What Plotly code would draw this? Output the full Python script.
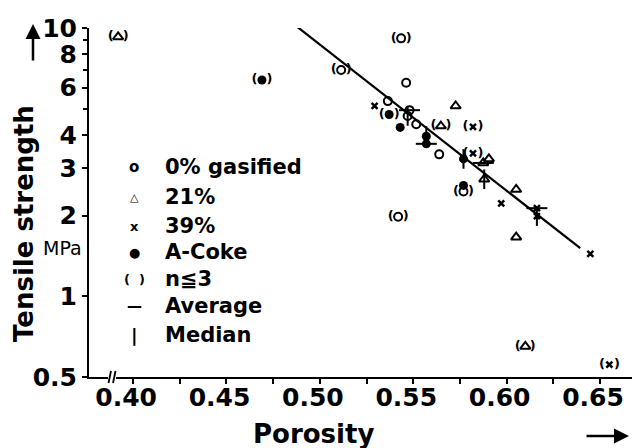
import plotly.graph_objects as go

# ---------------- data (porosity, tensile strength MPa, tag) ----------------
# tag: "" plain, "few" = n<=3 (in parentheses), "avg" = average, "med" = median
gas0_por = [0.5114, 0.5435, 0.5462, 0.5364, 0.5480, 0.5470, 0.5516, 0.5639, 0.5769, 0.5419]
gas0_ts = [6.97, 9.15, 6.25, 5.34, 4.94, 4.70, 4.38, 3.38, 2.46, 1.98]
gas0_tag = ["few", "few", "", "", "avg", "med", "", "", "few", "few"]

gas21_por = [0.3920, 0.5648, 0.5727, 0.5875, 0.5905, 0.5880, 0.6051, 0.6051, 0.6100]
gas21_ts = [9.26, 4.31, 5.12, 3.14, 3.25, 2.73, 2.50, 1.66, 0.65]
gas21_tag = ["few", "few", "", "avg", "", "med", "", "", "few"]

gas39_por = [0.5293, 0.5820, 0.5820, 0.5971, 0.6162, 0.6162, 0.6448, 0.6550]
gas39_ts = [5.12, 4.28, 3.41, 2.22, 2.13, 1.99, 1.44, 0.556]
gas39_tag = ["", "few", "few", "", "avg", "med", "", "few"]

acoke_por = [0.4690, 0.5371, 0.5430, 0.5570, 0.5570, 0.5769, 0.5769]
acoke_ts = [6.40, 4.76, 4.26, 3.70, 3.95, 3.25, 2.59]
acoke_tag = ["few", "few", "", "avg", "med", "med", ""]

fit_por = [0.485, 0.6394]
fit_ts = [10.47, 1.51]

x_ticks = [0.40, 0.45, 0.50, 0.55, 0.60, 0.65]
x_ticktext = ["0.40", "0.45", "0.50", "0.55", "0.60", "0.65"]
x_minor = [0.425, 0.475, 0.525, 0.575, 0.625]
y_ticks = [0.5, 1, 2, 3, 4, 6, 8, 10]
y_ticktext = ["0.5", "1", "2", "3", "4", "6", "8", "10"]
y_minor = [5, 7, 9]

legend_labels = ["0% gasified", "21%", "39%", "A-Coke", "n\u22663", "Average", "Median"]
legend_glyphs = ["o", "\u25b3", "x", "\u25cf", "(  )", "\u2014", "|"]

# ---------------- figure ----------------
BLACK = "#000000"
FONT = "DejaVu Sans"
fig = go.Figure()

# regression line
fig.add_trace(go.Scatter(x=fit_por, y=fit_ts, mode="lines",
                         line=dict(color=BLACK, width=2.2), hoverinfo="skip"))

series = [
    (gas0_por, gas0_ts, gas0_tag, dict(symbol="circle-open", size=8, line=dict(width=2, color=BLACK), color=BLACK)),
    (gas21_por, gas21_ts, gas21_tag, dict(symbol="triangle-up-open", size=9, line=dict(width=2, color=BLACK), color=BLACK)),
    (gas39_por, gas39_ts, gas39_tag, dict(symbol="x-thin-open", size=6, line=dict(width=2.5, color=BLACK), color=BLACK)),
    (acoke_por, acoke_ts, acoke_tag, dict(symbol="circle", size=9, line=dict(width=0, color=BLACK), color=BLACK)),
]

for por, ts, tag, mk in series:
    fig.add_trace(go.Scatter(x=por, y=ts, mode="markers", marker=mk, hoverinfo="skip"))
    few = [i for i, t in enumerate(tag) if t == "few"]
    if few:
        fig.add_trace(go.Scatter(x=[por[i] for i in few], y=[ts[i] for i in few],
                                 mode="text", text=["(  )"] * len(few),
                                 textposition="middle center",
                                 textfont=dict(family=FONT, size=13, color=BLACK, weight="bold"),
                                 hoverinfo="skip"))
    avg = [i for i, t in enumerate(tag) if t == "avg"]
    if avg:
        fig.add_trace(go.Scatter(x=[por[i] for i in avg], y=[ts[i] for i in avg], mode="markers",
                                 marker=dict(symbol="line-ew-open", size=15, color=BLACK,
                                             line=dict(width=2, color=BLACK)),
                                 hoverinfo="skip"))
    med = [i for i, t in enumerate(tag) if t == "med"]
    if med:
        fig.add_trace(go.Scatter(x=[por[i] for i in med], y=[ts[i] for i in med], mode="markers",
                                 marker=dict(symbol="line-ns-open", size=14, color=BLACK,
                                             line=dict(width=2, color=BLACK)),
                                 hoverinfo="skip"))

# ---------------- layout ----------------
# the page body has an 8 px margin, so the figure is drawn offset by (8, 8)
OFF = 8
W, H = 640, 448
L, R, T, B = 89 - OFF, OFF, 28 - OFF, H - (377 - OFF)
pw, ph = W - L - R, H - T - B


def px(xs):
    return (xs - OFF - L) / pw


def py(ys):
    return (H - B - (ys - OFF)) / ph


tickfont = dict(family=FONT, size=25, color=BLACK, weight="bold")
fig.update_layout(
    width=W, height=H,
    margin=dict(l=L, r=R, t=T, b=B, pad=0, autoexpand=False),
    paper_bgcolor="white", plot_bgcolor="white",
    showlegend=False,
    font=dict(family=FONT, color=BLACK),
    xaxis=dict(range=[0.3764, 0.6714], tickvals=x_ticks, ticktext=x_ticktext,
               ticks="outside", ticklen=5, tickwidth=2, tickcolor=BLACK,
               showline=True, linewidth=2, linecolor=BLACK, showgrid=False, zeroline=False,
               tickfont=tickfont, ticklabelshift=-7, ticklabelstandoff=-8, automargin=False,
               minor=dict(tickvals=x_minor, ticks="outside", ticklen=5, tickwidth=2,
                          tickcolor=BLACK, showgrid=False)),
    yaxis=dict(type="log", range=[-0.30103, 1.0], tickvals=y_ticks, ticktext=y_ticktext,
               ticks="outside", ticklen=5, tickwidth=2, tickcolor=BLACK,
               showline=True, linewidth=2, linecolor=BLACK, showgrid=False, zeroline=False,
               tickfont=tickfont, automargin=False,
               minor=dict(tickvals=y_minor, ticks="outside", ticklen=4, tickwidth=2,
                          tickcolor=BLACK, showgrid=False)),
)

ann = []
# axis titles
ann.append(dict(text="<b>Tensile strength</b>", x=px(24), y=py(224), xref="paper", yref="paper",
                textangle=-90, showarrow=False, font=dict(family=FONT, size=26, color=BLACK),
                xanchor="center", yanchor="middle"))
ann.append(dict(text="<b>Porosity</b>", x=px(313), y=py(434), xref="paper", yref="paper",
                showarrow=False, font=dict(family=FONT, size=26, color=BLACK),
                xanchor="center", yanchor="middle"))
ann.append(dict(text="MPa", x=px(62), y=py(248), xref="paper", yref="paper",
                showarrow=False, font=dict(family=FONT, size=19, color=BLACK),
                xanchor="center", yanchor="middle"))
# arrows
ann.append(dict(text="", x=px(33), y=py(24), xref="paper", yref="paper", showarrow=True,
                ax=0, ay=38, arrowhead=2, arrowsize=1.2, arrowwidth=2.5, arrowcolor=BLACK))
ann.append(dict(text="", x=px(629), y=py(436), xref="paper", yref="paper", showarrow=True,
                ax=-44, ay=0, arrowhead=2, arrowsize=1.2, arrowwidth=2.5, arrowcolor=BLACK))
# legend
legend_y = [167, 197, 226, 252, 279, 306, 335]
for lab, gl, yy in zip(legend_labels, legend_glyphs, legend_y):
    gsize = {"o": 15, "\u25b3": 11, "x": 13, "\u25cf": 13, "(  )": 13, "\u2014": 15, "|": 18}[gl]
    ann.append(dict(text="<b>%s</b>" % gl, x=px(134), y=py(yy), xref="paper", yref="paper",
                    showarrow=False, font=dict(family=FONT, size=gsize, color=BLACK),
                    xanchor="center", yanchor="middle"))
    ann.append(dict(text="<b>%s</b>" % lab, x=px(163), y=py(yy), xref="paper", yref="paper",
                    showarrow=False, font=dict(family=FONT, size=21, color=BLACK),
                    xanchor="left", yanchor="middle"))
fig.update_layout(annotations=ann)

# axis break marks on x axis
shapes = [
    dict(type="rect", xref="paper", yref="paper", x0=px(108), x1=px(116), y0=py(380), y1=py(374),
         fillcolor="white", line=dict(width=0), layer="above"),
    dict(type="line", xref="paper", yref="paper", x0=px(108.5), x1=px(111), y0=py(383), y1=py(371),
         line=dict(color=BLACK, width=1.8), layer="above"),
    dict(type="line", xref="paper", yref="paper", x0=px(113), x1=px(115.5), y0=py(383), y1=py(371),
         line=dict(color=BLACK, width=1.8), layer="above"),
]
fig.update_layout(shapes=shapes)

fig.write_html("out.html")
